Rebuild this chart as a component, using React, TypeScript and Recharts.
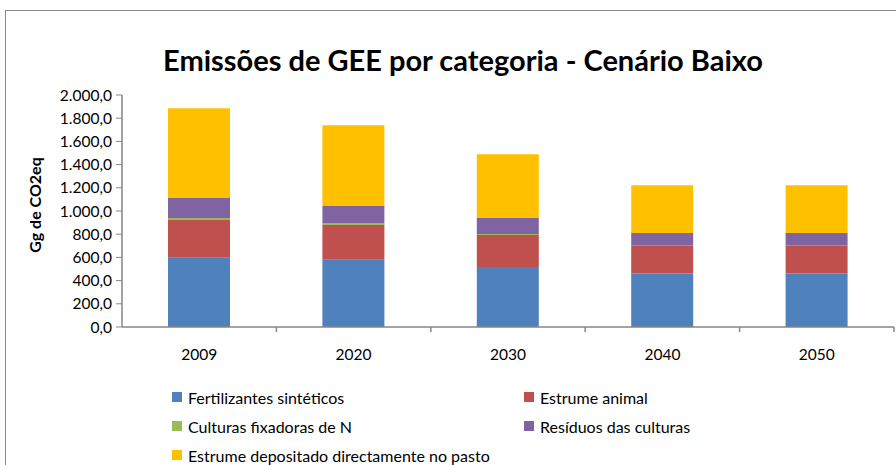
import React from "react"
import { BarChart, Bar, XAxis, YAxis } from "recharts"

const years = ["2009", "2020", "2030", "2040", "2050"]
const fertilizantes = [598, 579, 518, 461, 461]
const estrumeAnimal = [324, 301, 276, 241, 241]
const culturasFixadoras = [18, 17, 8, 0, 0]
const residuos = [172, 146, 138, 109, 109]
const estrumePasto = [773, 696, 550, 412, 412]
const yTicks = [0, 200, 400, 600, 800, 1000, 1200, 1400, 1600, 1800, 2000]

const series = [
  { key: "fert", name: "Fertilizantes sintéticos", color: "#4F81BD", values: fertilizantes },
  { key: "animal", name: "Estrume animal", color: "#C0504D", values: estrumeAnimal },
  { key: "fix", name: "Culturas fixadoras de N", color: "#9BBB59", values: culturasFixadoras },
  { key: "res", name: "Resíduos das culturas", color: "#8064A2", values: residuos },
  { key: "pasto", name: "Estrume depositado directamente no pasto", color: "#FFC000", values: estrumePasto },
]

const data = years.map((year, i) => {
  const row: any = { year }
  series.forEach((s) => {
    row[s.key] = s.values[i]
  })
  return row
})

const FONT = "Lato, 'Open Sans', sans-serif"

// formato português: 1.800,0
const fmt = (v: number) => {
  const [int, dec] = v.toFixed(1).split(".")
  return int.replace(/\B(?=(\d{3})+(?!\d))/g, ".") + "," + dec
}

const YearTick = (props: any) => {
  const { x, y, payload } = props
  const half = payload?.offset ?? 77
  return (
    <g>
      <line x1={x + half} y1={y - 8} x2={x + half} y2={y - 3} stroke="#868686" strokeWidth={1.5} />
      <text x={x} y={y + 25} textAnchor="middle" fontSize={15.5} fill="#000" fontFamily={FONT}>
        {payload.value}
      </text>
    </g>
  )
}

const LegendBox = () => (
  <div
    style={{
      display: "grid",
      gridTemplateColumns: "352px 300px",
      rowGap: 9,
      fontFamily: FONT,
      fontSize: 16,
      color: "#000",
    }}
  >
    {series.map((s) => (
      <div key={s.key} style={{ display: "flex", alignItems: "center", height: 20 }}>
        <span style={{ width: 10, height: 10, background: s.color, marginRight: 6, display: "inline-block" }} />
        <span>{s.name}</span>
      </div>
    ))}
  </div>
)

export default function App() {
  return (
    <div style={{ position: "absolute", left: 0, top: 0, width: 896, height: 465, background: "#fff", overflow: "hidden" }}>
      <div
        style={{
          position: "absolute",
          left: 5,
          top: 10,
          width: 900,
          height: 470,
          border: "1px solid #8a8a8a",
        }}
      />
      <div
        style={{
          position: "absolute",
          left: 0,
          width: 926,
          top: 42,
          textAlign: "center",
          fontFamily: FONT,
          fontWeight: 700,
          fontSize: 29,
          color: "#000",
        }}
      >
        Emissões de GEE por categoria - Cenário Baixo
      </div>
      <div
        style={{
          position: "absolute",
          left: 22,
          top: 205,
          transform: "translate(-50%, -50%) rotate(-90deg)",
          fontFamily: FONT,
          fontWeight: 700,
          fontSize: 16,
          whiteSpace: "nowrap",
          marginLeft: 12,
        }}
      >
        Gg de CO2eq
      </div>
      <div style={{ position: "absolute", left: 0, top: 0 }}>
        <BarChart width={896} height={465} data={data} margin={{ top: 95, right: 2, bottom: 108, left: 0 }}>
          <XAxis
            dataKey="year"
            height={30}
            axisLine={{ stroke: "#868686", strokeWidth: 1.5 }}
            tickLine={false}
            tick={<YearTick />}
            interval={0}
          />
          <YAxis
            width={122}
            domain={[0, 2000]}
            ticks={yTicks}
            interval={0}
            tickFormatter={fmt}
            axisLine={{ stroke: "#868686", strokeWidth: 1.5 }}
            tickLine={{ stroke: "#868686" }}
            tickSize={6}
            tickMargin={4}
            tick={{ fontSize: 15.5, fill: "#000", fontFamily: FONT }}
          />
          {series.map((s) => (
            <Bar key={s.key} dataKey={s.key} name={s.name} stackId="a" fill={s.color} barSize={62} isAnimationActive={false} />
          ))}
        </BarChart>
      </div>
      <div style={{ position: "absolute", left: 172, top: 387 }}>
        <LegendBox />
      </div>
    </div>
  )
}
